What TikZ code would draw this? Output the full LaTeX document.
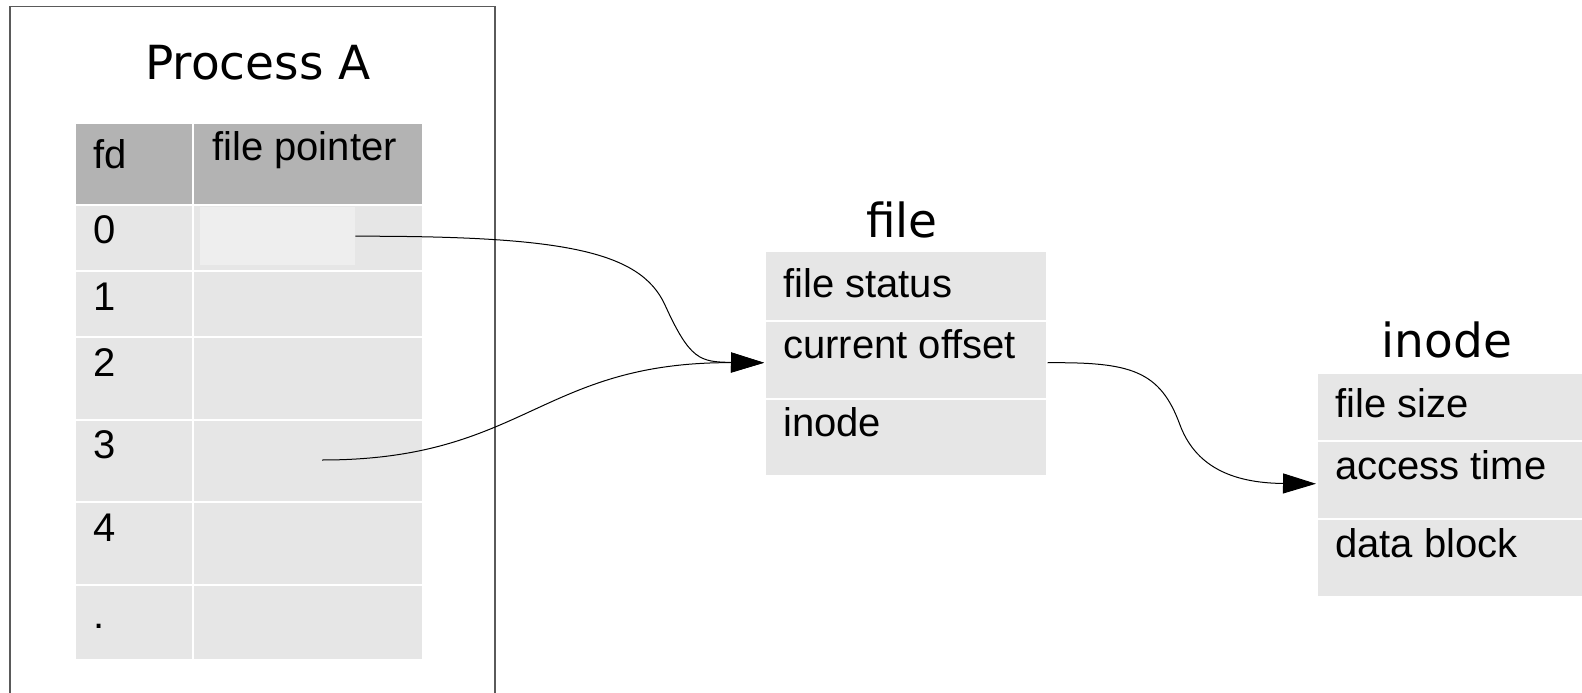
\documentclass[tikz,border=0pt]{standalone}
\usepackage{fontspec}
\setmainfont{Liberation Sans}
\newfontfamily\titlefont{DejaVu Sans}
\usetikzlibrary{arrows.meta}
\definecolor{hdr}{HTML}{B3B3B3}
\definecolor{cellc}{HTML}{E6E6E6}
\definecolor{ptrc}{HTML}{EEEEEE}
\definecolor{framec}{HTML}{5A5A5A}
\begin{document}
\begin{tikzpicture}[x=1bp,y=-1bp,
  cell/.style={rectangle, inner sep=0, anchor=north west, fill=cellc, draw=white, line width=1.5bp},
  hcell/.style={cell, fill=hdr},
  txt/.style={anchor=base west, inner sep=0, font=\fontsize{40bp}{48bp}\selectfont},
  ttl/.style={anchor=base, inner sep=0, font=\titlefont\fontsize{47bp}{56bp}\selectfont},
  link/.style={line width=1bp, -{Triangle[length=33bp,width=20bp]}}]
\useasboundingbox (0,0) rectangle (1582,693);

% Process A frame
\node[draw=framec, line width=1.5bp, anchor=north west, minimum width=485bp, minimum height=730bp, inner sep=0] (proc) at (9,6) {};
\node[ttl] (ptitle) at (258,80) {Process A};

% table header
\node[hcell, minimum width=118bp, minimum height=81bp] (hfd) at (74,123) {};
\node[hcell, minimum width=230bp, minimum height=81bp] (hfp) at (192,123) {};
\node[txt] (tfd) at (93,168) {fd};
\node[txt] (tfp) at (212,160) {file pointer};

% table rows
\foreach \y/\h/\n in {204/66/0, 270/66/1, 336/83/2, 419/82/3, 501/83/4, 584/75/5}{
  \node[cell, minimum width=118bp, minimum height=\h bp] (fd\n) at (74,\y) {};
  \node[cell, minimum width=230bp, minimum height=\h bp] (fp\n) at (192,\y) {};
}
\node[txt] (d0) at (93,243) {0};
\node[txt] (d1) at (93,310) {1};
\node[txt] (d2) at (93,376) {2};
\node[txt] (d3) at (93,458) {3};
\node[txt] (d4) at (93,541) {4};
\node[txt] (d5) at (93,628) {.};

\node[rectangle, inner sep=0, anchor=north west, fill=ptrc, minimum width=155bp, minimum height=58bp] (ptr0) at (200,207) {};
\coordinate (ptr3) at (322,460);

% file structure
\node[ttl] (ftitle) at (902,237) {file};
\node[cell, minimum width=282bp, minimum height=70bp] (fst) at (764,250) {};
\node[cell, minimum width=282bp, minimum height=78bp] (fco) at (764,320) {};
\node[cell, minimum width=282bp, minimum height=77bp] (fin) at (764,398) {};
\node[txt] (tfst) at (783,297) {file status};
\node[txt] (tfco) at (783,358) {current offset};
\node[txt] (tfin) at (783,436) {inode};

% inode structure
\node[ttl] (ititle) at (1447,357) {inode};
\node[cell, minimum width=300bp, minimum height=68bp] (isz) at (1316,372) {};
\node[cell, minimum width=300bp, minimum height=78bp] (iat) at (1316,440) {};
\node[cell, minimum width=300bp, minimum height=78bp] (idb) at (1316,518) {};
\node[txt] (tisz) at (1335,417) {file size};
\node[txt] (tiat) at (1335,479) {access time};
\node[txt] (tidb) at (1335,557) {data block};

% connectors
\draw[link] (ptr0.east) .. controls (560,236) and (640,250) .. (665,305)
  .. controls (690,360) and (700,362) .. ([yshift=-3bp]fco.west);
\draw[link] (ptr3) .. controls (525,460) and (540,362) .. ([yshift=-3bp]fco.west);
\draw[link] ([yshift=-3bp]fco.east) .. controls (1130,362) and (1160,370) .. (1180,425)
  .. controls (1195,465) and (1230,483) .. ([yshift=-4bp]iat.west);
\end{tikzpicture}
\end{document}
